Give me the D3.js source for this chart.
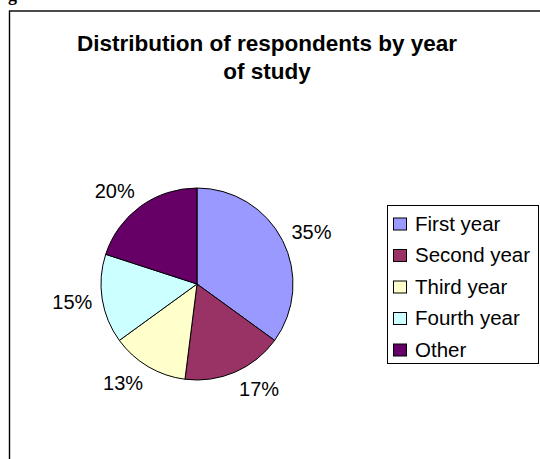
<!DOCTYPE html>
<html>
<head>
<meta charset="utf-8">
<script src="https://cdn.jsdelivr.net/npm/d3@7"></script>
<style>
html,body{margin:0;padding:0;background:#fff;}
svg{display:block;}
text{font-family:Arial,"Liberation Sans",sans-serif;fill:#000;}
</style>
</head>
<body>
<svg id="chart" width="540" height="459"></svg>
<script>
const categories = ["First year", "Second year", "Third year", "Fourth year", "Other"];
const values = [35, 17, 13, 15, 20];
const labels = ["35%", "17%", "13%", "15%", "20%"];
const colors = ["#9999FF", "#993366", "#FFFFCC", "#CCFFFF", "#660066"];
const titleLines = ["Distribution of respondents by year", "of study"];

const svg = d3.select("#chart");

// cropped caption glyph from the page above
svg.append("text").attr("x", 8).attr("y", 1)
  .style("font-family", "'Liberation Serif','Times New Roman',serif")
  .style("font-weight", "bold").style("font-size", "18px").text("g");

// chart area border
svg.append("rect").attr("x", 9.5).attr("y", 11).attr("width", 560).attr("height", 480)
  .attr("fill", "#fff").attr("stroke", "#000").attr("stroke-width", 1.4);

// title
const title = svg.append("text").attr("text-anchor", "middle")
  .style("font-weight", "bold").style("font-size", "22.5px");
titleLines.forEach((t, i) => {
  title.append("tspan").attr("x", 267).attr("y", 51 + i * 28).text(t);
});

// pie
const cx = 197, cy = 284, R = 96;
const pie = d3.pie().sort(null).value(d => d)(values);
const arc = d3.arc().innerRadius(0).outerRadius(R);
const g = svg.append("g").attr("transform", `translate(${cx},${cy})`);
g.selectAll("path").data(pie).join("path")
  .attr("d", arc)
  .attr("fill", (d, i) => colors[i])
  .attr("stroke", "#000").attr("stroke-width", 1);

// data labels (Excel-like outside placement)
const fs = 20, r0 = 106;
g.selectAll("text.lbl").data(pie).join("text")
  .attr("class", "lbl")
  .style("font-size", fs + "px")
  .attr("text-anchor", "middle")
  .text((d, i) => labels[i])
  .each(function (d) {
    const a = (d.startAngle + d.endAngle) / 2;
    const ux = Math.sin(a), uy = -Math.cos(a);
    const w = this.getComputedTextLength();
    const h = fs * 0.72;
    const x = ux * r0 + Math.sign(ux) * w / 2;
    const y = uy * r0 + uy * h * 0.6;
    d3.select(this).attr("x", x).attr("y", y + h / 2);
  });

// legend
const lg = svg.append("g");
lg.append("rect").attr("x", 387.5).attr("y", 205.5).attr("width", 151).attr("height", 158)
  .attr("fill", "#fff").attr("stroke", "#000").attr("stroke-width", 1);
const rowY = d3.scalePoint().domain(categories).range([230.5, 356.5]);
const rows = lg.selectAll("g.row").data(categories).join("g").attr("class", "row")
  .attr("transform", d => `translate(0,${rowY(d)})`);
rows.append("rect").attr("x", 393.5).attr("y", -12.5).attr("width", 13).attr("height", 12)
  .attr("fill", (d, i) => colors[i]).attr("stroke", "#000").attr("stroke-width", 1);
rows.append("text").attr("x", 415).attr("y", 0).style("font-size", "20.5px").text(d => d);
</script>
</body>
</html>
